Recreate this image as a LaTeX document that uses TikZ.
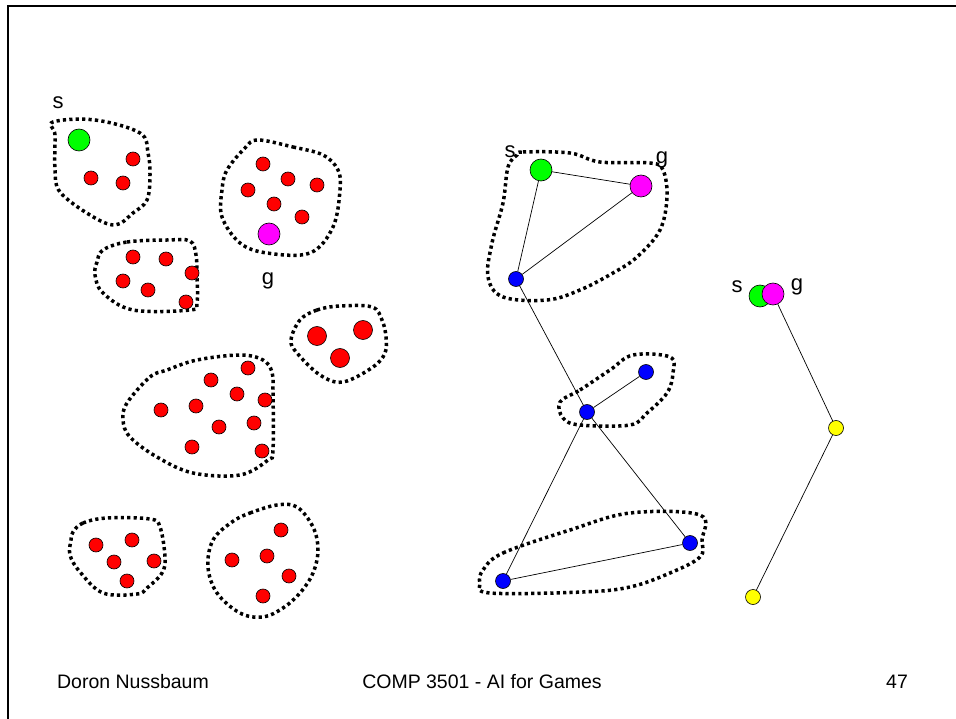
\documentclass[tikz,border=0pt]{standalone}
\usepackage{fontspec}
\setmainfont{Liberation Sans}
\definecolor{goalpink}{RGB}{255,0,255}
\definecolor{startgreen}{RGB}{0,255,0}
\definecolor{nodered}{RGB}{255,0,0}
\definecolor{nodeblue}{RGB}{0,0,255}
\definecolor{nodeyellow}{RGB}{255,255,0}
\begin{document}
\begin{tikzpicture}[x=1pt,y=-1pt,
  dot/.style={circle,draw=black,line width=0.6pt,inner sep=0pt,minimum size=#1},
  rdot/.style={dot=14pt,fill=nodered},
  bigrdot/.style={dot=19pt,fill=nodered},
  sdot/.style={dot=22pt,fill=startgreen},
  gdot/.style={dot=22pt,fill=goalpink},
  bdot/.style={dot=15pt,fill=nodeblue},
  ydot/.style={dot=15pt,fill=nodeyellow},
  region/.style={draw=black,line width=3.5pt,dash pattern=on 3.2pt off 3.2pt},
  edge/.style={draw=black,line width=0.7pt},
  lbl/.style={font=\fontsize{22}{24}\selectfont,inner sep=0pt},
  foot/.style={font=\fontsize{19.5}{22}\selectfont,inner sep=0pt,anchor=base}]
\useasboundingbox (0,0) rectangle (956,719);
% slide frame
\draw[line width=2pt] (8,719) -- (8,6) -- (956,6);

% ---------- left panel: point clusters ----------
\draw[region] plot[smooth cycle,tension=0.6] coordinates {(53,122) (95,120) (140,133) (148,153) (150,175) (147,200) (133,213) (115,225) (90,215) (60,192) (55,170) (55,135)};
\draw[region] plot[smooth cycle,tension=0.6] coordinates {(258,140) (293,147) (323,155) (338,170) (340,190) (333,227) (310,253) (267,253) (240,243) (222,217) (222,190) (227,170) (245,148)};
\draw[region] plot[smooth cycle,tension=0.6] coordinates {(103,250) (127,242) (167,240) (190,241) (196,255) (197,275) (197,303) (190,310) (133,310) (103,293) (95,275) (97,262)};
\draw[region] plot[smooth cycle,tension=0.6] coordinates {(300,320) (317,310) (340,306) (372,307) (382,320) (386,337) (385,353) (373,367) (343,382) (320,375) (297,353) (291,340)};
\draw[region] plot[smooth cycle,tension=0.6] coordinates {(127,403) (150,377) (167,370) (197,360) (240,355) (263,360) (272,372) (273,390) (273,450) (268,460) (240,475) (193,473) (157,457) (130,437) (123,420)};
\draw[region] plot[smooth cycle,tension=0.6] coordinates {(73,532) (83,523) (107,518) (150,519) (160,527) (165,557) (162,573) (147,588) (137,594) (103,593) (80,572) (70,555) (71,540)};
\draw[region] plot[smooth cycle,tension=0.6] coordinates {(232,522) (250,513) (277,505) (297,507) (313,527) (318,550) (313,573) (300,593) (283,608) (263,617) (240,613) (217,593) (208,567) (213,540)};

\node[lbl] (ls1) at (58,103) {s};
\node[sdot] (s1) at (79,140) {};
\node[rdot] (a1) at (133,159) {};
\node[rdot] (a2) at (91,178) {};
\node[rdot] (a3) at (123,183) {};

\node[rdot] (b1) at (263,164) {};
\node[rdot] (b2) at (288,179) {};
\node[rdot] (b3) at (317,185) {};
\node[rdot] (b4) at (248,190) {};
\node[rdot] (b5) at (274,204) {};
\node[rdot] (b6) at (302,217) {};
\node[gdot] (g1) at (269,234) {};
\node[lbl] (lg1) at (268,281) {g};

\node[rdot] (c1) at (133,257) {};
\node[rdot] (c2) at (166,259) {};
\node[rdot] (c3) at (192,273) {};
\node[rdot] (c4) at (123,281) {};
\node[rdot] (c5) at (148,290) {};
\node[rdot] (c6) at (186,302) {};

\node[bigrdot] (d1) at (317,336) {};
\node[bigrdot] (d2) at (363,330) {};
\node[bigrdot] (d3) at (340,358) {};

\node[rdot] (e1) at (248,368) {};
\node[rdot] (e2) at (211,380) {};
\node[rdot] (e3) at (237,394) {};
\node[rdot] (e4) at (265,400) {};
\node[rdot] (e5) at (161,410) {};
\node[rdot] (e6) at (196,406) {};
\node[rdot] (e7) at (219,427) {};
\node[rdot] (e8) at (254,423) {};
\node[rdot] (e9) at (192,447) {};
\node[rdot] (e10) at (262,451) {};

\node[rdot] (f1) at (96,545) {};
\node[rdot] (f2) at (132,540) {};
\node[rdot] (f3) at (114,562) {};
\node[rdot] (f4) at (154,561) {};
\node[rdot] (f5) at (127,581) {};

\node[rdot] (h1) at (281,530) {};
\node[rdot] (h2) at (232,560) {};
\node[rdot] (h3) at (267,556) {};
\node[rdot] (h4) at (289,576) {};
\node[rdot] (h5) at (263,596) {};

% ---------- middle panel: cluster graph ----------
\draw[region] plot[smooth cycle,tension=0.6] coordinates {(517,155) (523,152) (570,153) (600,162) (650,163) (663,170) (667,197) (660,230) (637,257) (613,273) (580,290) (547,300) (503,297) (488,277) (492,243) (503,203) (508,167)};
\draw[region] plot[smooth cycle,tension=0.6] coordinates {(560,402) (580,390) (610,370) (633,355) (670,357) (673,373) (667,393) (647,413) (630,425) (580,425) (563,418)};
\draw[region] plot[smooth cycle,tension=0.6] coordinates {(483,570) (503,553) (570,530) (630,513) (700,515) (702,540) (700,557) (670,573) (630,587) (583,592) (490,593) (480,583)};

\node[lbl] (ls2) at (510,152) {s};
\node[lbl] (lg2) at (662,160) {g};
\node[sdot] (s2) at (541,170) {};
\node[gdot] (g2) at (641,186) {};
\node[bdot] (m1) at (516,279) {};
\node[bdot] (m2) at (646,372) {};
\node[bdot] (m3) at (587,412) {};
\node[bdot] (m4) at (690,543) {};
\node[bdot] (m5) at (503,581) {};

\draw[edge] (s2) -- (g2);
\draw[edge] (s2) -- (m1);
\draw[edge] (g2) -- (m1);
\draw[edge] (m1) -- (m3);
\draw[edge] (m3) -- (m2);
\draw[edge] (m3) -- (m5);
\draw[edge] (m3) -- (m4);
\draw[edge] (m5) -- (m4);

% ---------- right panel: reduced graph ----------
\node[lbl] (ls3) at (737,287) {s};
\node[lbl] (lg3) at (797,287) {g};
\node[sdot] (s3) at (760,296) {};
\node[gdot] (g3) at (773,294) {};
\node[ydot] (y1) at (836,428) {};
\node[ydot] (y2) at (753,597) {};
\draw[edge] (g3) -- (y1);
\draw[edge] (y1) -- (y2);

% ---------- footer ----------
\node[foot] (author) at (133,688) {Doron Nussbaum};
\node[foot] (course) at (482,688) {COMP 3501 - AI for Games};
\node[foot] (page) at (897,688) {47};
\end{tikzpicture}
\end{document}
